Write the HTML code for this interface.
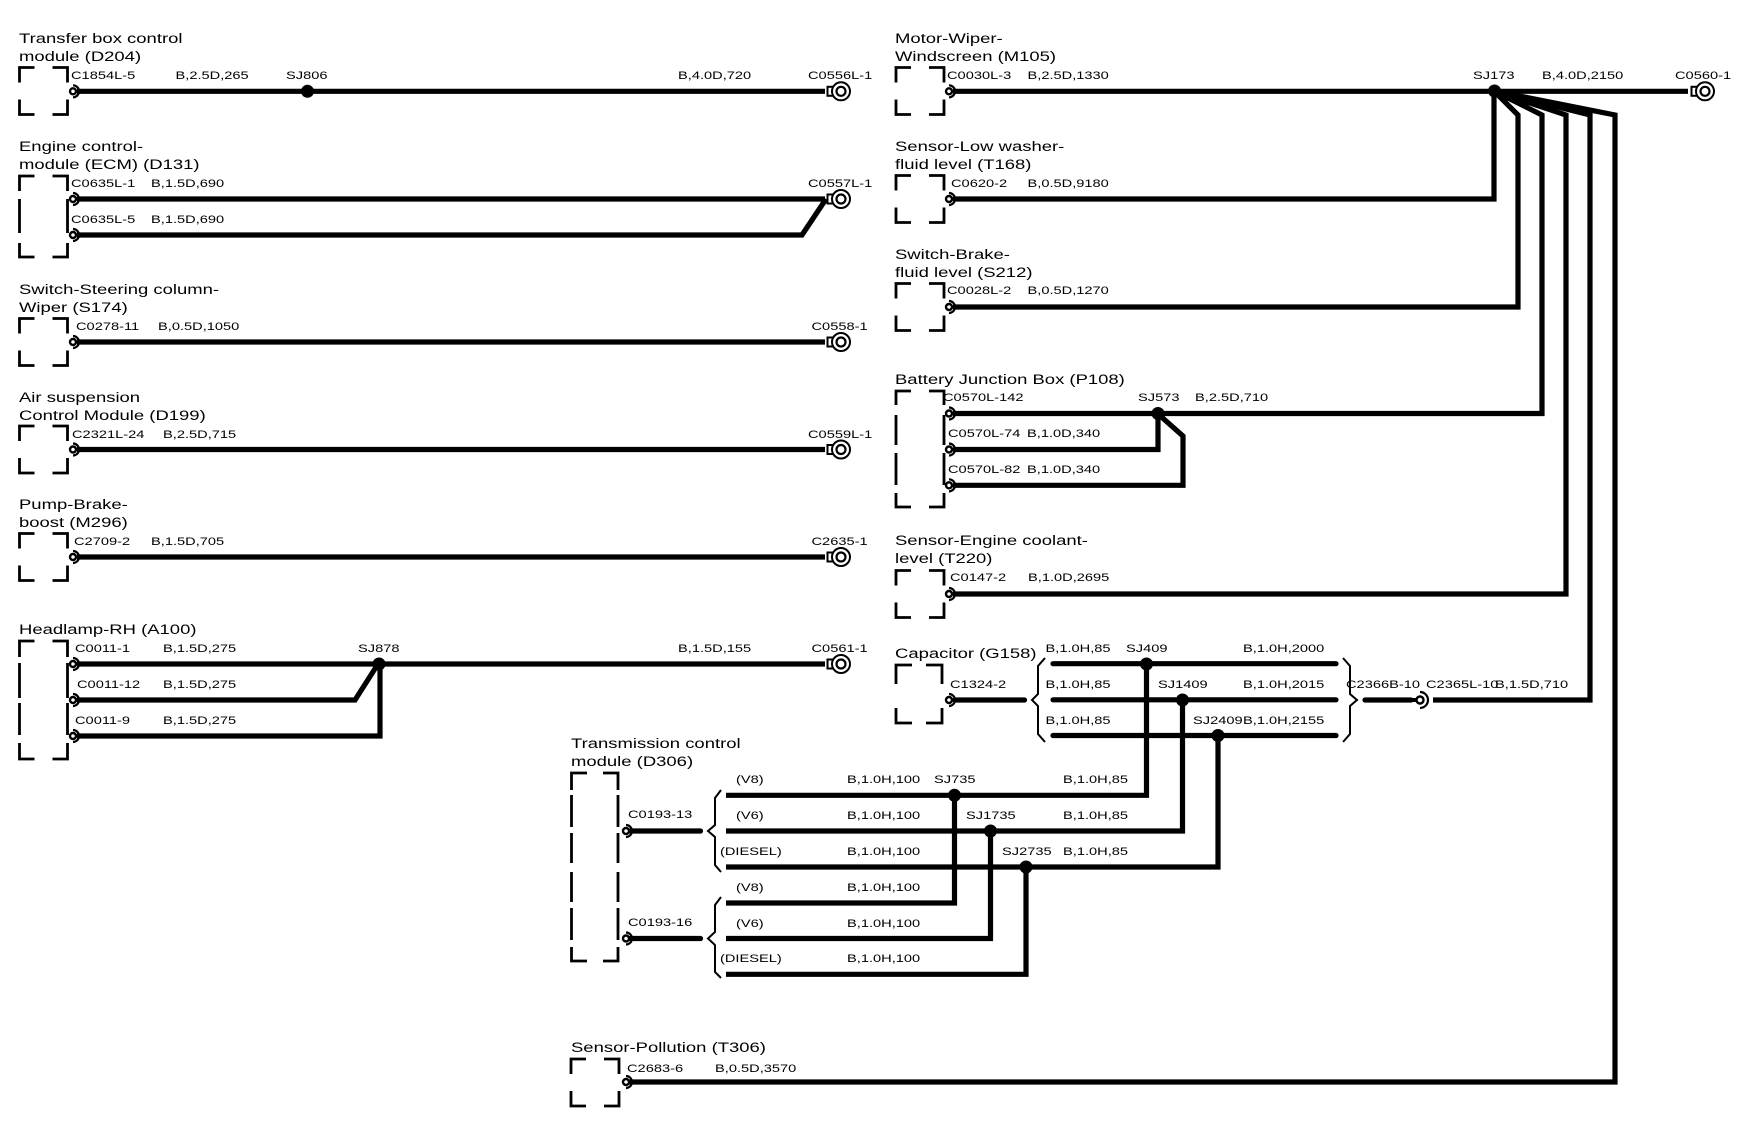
<!DOCTYPE html>
<html><head><meta charset="utf-8"><style>
html,body{margin:0;padding:0;background:#fff}
svg{display:block}
text{font-family:"Liberation Sans",sans-serif;font-size:11px;fill:#000}
.b text{font-size:14px}
.w{fill:none;stroke:#000;stroke-width:5.2;stroke-linejoin:miter}
.r{fill:none;stroke:#000;stroke-width:5.2;stroke-linecap:round}
.x{fill:none;stroke:#000;stroke-width:2.8}
.br{fill:none;stroke:#000;stroke-width:2}
</style></head><body>
<svg width="1750" height="1136" viewBox="0 0 1750 1136" xmlns="http://www.w3.org/2000/svg">
<defs>
<path id="bx" class="x" d="M0,15V0H15M33,0H48V15M0,32V47H15M33,47H48V32"/>
<g id="t"><circle r="3" fill="#fff" stroke="#000" stroke-width="2.4"/><path d="M0,-6A6,6 0 0 1 0,6" fill="none" stroke="#000" stroke-width="2.2"/></g>
<g id="e"><rect x="1" y="-4.5" width="6.5" height="9" fill="#fff" stroke="#000" stroke-width="2"/><circle cx="14.5" r="9" fill="#fff" stroke="#000" stroke-width="2"/><circle cx="14.5" r="4.5" fill="#fff" stroke="#000" stroke-width="2.2"/></g>
</defs>

<!-- boxes -->
<use href="#bx" x="19.5" y="67.5"/><use href="#bx" x="19.5" y="318.5"/><use href="#bx" x="19.5" y="426"/><use href="#bx" x="19.5" y="533.5"/>
<use href="#bx" x="896" y="67.5"/><use href="#bx" x="896" y="175.5"/><use href="#bx" x="896" y="283.5"/><use href="#bx" x="896" y="570.5"/><use href="#bx" x="571" y="1059"/>
<path class="x" d="M19.5,191V176H34.5M52.5,176H67.5V191M19.5,199V233M67.5,199V233M19.5,243V257H34.5M52.5,257H67.5V243"/>
<path class="x" d="M19.5,657V641H34.5M52.5,641H67.5V657M19.5,663V698M67.5,663V698M19.5,703V735M67.5,703V735M19.5,743V759H34.5M52.5,759H67.5V743"/>
<path class="x" d="M896,405V391H911M929,391H944V405M896,415V445M944,415V445M896,453V485M944,453V485M896,493V507H911M929,507H944V493"/>
<path class="x" d="M896,684V665H912M926,665H942V684M896,708V723H912M926,723H942V708"/>
<path class="x" d="M571.5,790V773H587M603,773H618V790M571.5,795V827M618,795V827M571.5,833V863M618,833V863M571.5,872V902M618,872V902M571.5,908V940M618,908V940M571.5,947V961H587M603,961H618V947"/>

<!-- wires left -->
<path class="w" d="M77,91.3H825M77,199H825M77,235H802L826,199M77,342H825M77,449.5H825M77,557H825"/>
<path class="w" d="M77,664H825M77,700H355L378,664M77,736H380V664"/>
<!-- wires right -->
<path class="w" d="M953,91.3H1688M953,199H1494V91"/>
<path class="w" d="M953,307H1518V115L1494,91M953,413.5H1542V115L1494,91M953,449.5H1158V413M953,485.3H1183V436L1157,413M953,594H1566V115L1494,91"/>
<path class="w" d="M1433,700H1590V115L1494,91M629,1082H1615V115L1494,91"/>
<path class="r" d="M955,700H1024.5M1053,663.7H1336M1053,699.8H1336M1053,735.5H1336M1365,700H1411"/>
<path class="r" d="M630,831H700.5M630,938.5H700.5"/>
<path class="w" d="M726,795.3H1146.5V664M726,831H1182.5V700M726,867H1218V735.5M726,903H954.5V795M726,938.5H990.5V831M726,974.3H1026V867"/>
<path d="M1410,698H1418V702H1410Z" fill="#000"/>

<!-- junctions -->
<g fill="#000"><circle cx="307.5" cy="91.3" r="6.5"/><circle cx="379" cy="664" r="6.5"/><circle cx="1494.5" cy="91" r="6.5"/><circle cx="1158" cy="413.5" r="6.5"/><circle cx="1146.5" cy="664" r="6.5"/><circle cx="1182.5" cy="700" r="6.5"/><circle cx="1218" cy="735.5" r="6.5"/><circle cx="954.5" cy="795.3" r="6.5"/><circle cx="990.5" cy="831" r="6.5"/><circle cx="1026" cy="867" r="6.5"/></g>

<!-- terminals -->
<use href="#t" x="73" y="91.3"/><use href="#t" x="73" y="199"/><use href="#t" x="73" y="235"/><use href="#t" x="73" y="342"/><use href="#t" x="73" y="449.5"/><use href="#t" x="73" y="557"/><use href="#t" x="73" y="664"/><use href="#t" x="73" y="700"/><use href="#t" x="73" y="736"/>
<use href="#t" x="949" y="91.3"/><use href="#t" x="949" y="199"/><use href="#t" x="949" y="307"/><use href="#t" x="949" y="413.5"/><use href="#t" x="949" y="449.5"/><use href="#t" x="949" y="485.3"/><use href="#t" x="949" y="594"/><use href="#t" x="949" y="700"/>
<use href="#t" x="626" y="831"/><use href="#t" x="626" y="938.5"/><use href="#t" x="626" y="1082"/>
<circle cx="1420" cy="700" r="3.5" fill="#fff" stroke="#000" stroke-width="2.4"/><path d="M1420,692A8,8 0 0 1 1420,708" fill="none" stroke="#000" stroke-width="2.2"/>

<!-- ends -->
<use href="#e" x="826.5" y="91.3"/><use href="#e" x="826.5" y="199"/><use href="#e" x="826.5" y="342"/><use href="#e" x="826.5" y="449.5"/><use href="#e" x="826.5" y="557"/><use href="#e" x="826.5" y="664"/><use href="#e" x="1690.5" y="91.3"/>

<!-- braces -->
<path class="br" d="M1045,658L1038,666V694L1032,700L1038,706V734L1045,742"/>
<path class="br" d="M1343,658L1350,666V694L1357,700L1350,706V734L1343,742"/>
<path class="br" d="M721,790L715,798V825L708,831L715,837V865L721,872"/>
<path class="br" d="M721,897L715,905V932L708,938.5L715,945V972L721,978"/>

<!-- titles -->
<g class="b">
<text transform="matrix(1.32 0 0 1 19 43)">Transfer box control</text>
<text transform="matrix(1.32 0 0 1 19 61)">module (D204)</text>
<text transform="matrix(1.32 0 0 1 19 151)">Engine control-</text>
<text transform="matrix(1.32 0 0 1 19 169)">module (ECM) (D131)</text>
<text transform="matrix(1.32 0 0 1 19 294)">Switch-Steering column-</text>
<text transform="matrix(1.32 0 0 1 19 312)">Wiper (S174)</text>
<text transform="matrix(1.32 0 0 1 19 402)">Air suspension</text>
<text transform="matrix(1.32 0 0 1 19 420)">Control Module (D199)</text>
<text transform="matrix(1.32 0 0 1 19 509)">Pump-Brake-</text>
<text transform="matrix(1.32 0 0 1 19 527)">boost (M296)</text>
<text transform="matrix(1.32 0 0 1 19 634)">Headlamp-RH (A100)</text>
<text transform="matrix(1.32 0 0 1 895 43)">Motor-Wiper-</text>
<text transform="matrix(1.32 0 0 1 895 61)">Windscreen (M105)</text>
<text transform="matrix(1.32 0 0 1 895 151)">Sensor-Low washer-</text>
<text transform="matrix(1.32 0 0 1 895 169)">fluid level (T168)</text>
<text transform="matrix(1.32 0 0 1 895 259)">Switch-Brake-</text>
<text transform="matrix(1.32 0 0 1 895 277)">fluid level (S212)</text>
<text transform="matrix(1.32 0 0 1 895 384)">Battery Junction Box (P108)</text>
<text transform="matrix(1.32 0 0 1 895 545)">Sensor-Engine coolant-</text>
<text transform="matrix(1.32 0 0 1 895 563)">level (T220)</text>
<text transform="matrix(1.32 0 0 1 895 658)">Capacitor (G158)</text>
<text transform="matrix(1.32 0 0 1 571 748)">Transmission control</text>
<text transform="matrix(1.32 0 0 1 571 766)">module (D306)</text>
<text transform="matrix(1.32 0 0 1 571 1052)">Sensor-Pollution (T306)</text>
</g>

<!-- labels left -->
<text transform="matrix(1.33 0 0 1 71 79)">C1854L-5</text>
<text transform="matrix(1.33 0 0 1 175.5 79)">B,2.5D,265</text>
<text transform="matrix(1.33 0 0 1 286 79)">SJ806</text>
<text transform="matrix(1.33 0 0 1 678 79)">B,4.0D,720</text>
<text transform="matrix(1.33 0 0 1 808 79)">C0556L-1</text>
<text transform="matrix(1.33 0 0 1 71 187)">C0635L-1</text>
<text transform="matrix(1.33 0 0 1 151 187)">B,1.5D,690</text>
<text transform="matrix(1.33 0 0 1 808 187)">C0557L-1</text>
<text transform="matrix(1.33 0 0 1 71 223)">C0635L-5</text>
<text transform="matrix(1.33 0 0 1 151 223)">B,1.5D,690</text>
<text transform="matrix(1.33 0 0 1 76 330)">C0278-11</text>
<text transform="matrix(1.33 0 0 1 158 330)">B,0.5D,1050</text>
<text transform="matrix(1.33 0 0 1 811.5 330)">C0558-1</text>
<text transform="matrix(1.33 0 0 1 72 438)">C2321L-24</text>
<text transform="matrix(1.33 0 0 1 163 438)">B,2.5D,715</text>
<text transform="matrix(1.33 0 0 1 808 438)">C0559L-1</text>
<text transform="matrix(1.33 0 0 1 74 545)">C2709-2</text>
<text transform="matrix(1.33 0 0 1 151 545)">B,1.5D,705</text>
<text transform="matrix(1.33 0 0 1 811.5 545)">C2635-1</text>
<text transform="matrix(1.33 0 0 1 75 652)">C0011-1</text>
<text transform="matrix(1.33 0 0 1 163 652)">B,1.5D,275</text>
<text transform="matrix(1.33 0 0 1 358 652)">SJ878</text>
<text transform="matrix(1.33 0 0 1 678 652)">B,1.5D,155</text>
<text transform="matrix(1.33 0 0 1 811.5 652)">C0561-1</text>
<text transform="matrix(1.33 0 0 1 77 688)">C0011-12</text>
<text transform="matrix(1.33 0 0 1 163 688)">B,1.5D,275</text>
<text transform="matrix(1.33 0 0 1 75 724)">C0011-9</text>
<text transform="matrix(1.33 0 0 1 163 724)">B,1.5D,275</text>

<!-- labels right -->
<text transform="matrix(1.33 0 0 1 947 79)">C0030L-3</text>
<text transform="matrix(1.33 0 0 1 1027.5 79)">B,2.5D,1330</text>
<text transform="matrix(1.33 0 0 1 1473 79)">SJ173</text>
<text transform="matrix(1.33 0 0 1 1542 79)">B,4.0D,2150</text>
<text transform="matrix(1.33 0 0 1 1675 79)">C0560-1</text>
<text transform="matrix(1.33 0 0 1 951 187)">C0620-2</text>
<text transform="matrix(1.33 0 0 1 1027.5 187)">B,0.5D,9180</text>
<text transform="matrix(1.33 0 0 1 947 294)">C0028L-2</text>
<text transform="matrix(1.33 0 0 1 1027.5 294)">B,0.5D,1270</text>
<text transform="matrix(1.33 0 0 1 943 401)">C0570L-142</text>
<text transform="matrix(1.33 0 0 1 1138 401)">SJ573</text>
<text transform="matrix(1.33 0 0 1 1195 401)">B,2.5D,710</text>
<text transform="matrix(1.33 0 0 1 948 437)">C0570L-74</text>
<text transform="matrix(1.33 0 0 1 1027 437)">B,1.0D,340</text>
<text transform="matrix(1.33 0 0 1 948 473)">C0570L-82</text>
<text transform="matrix(1.33 0 0 1 1027 473)">B,1.0D,340</text>
<text transform="matrix(1.33 0 0 1 950 581)">C0147-2</text>
<text transform="matrix(1.33 0 0 1 1028 581)">B,1.0D,2695</text>
<text transform="matrix(1.33 0 0 1 950 688)">C1324-2</text>
<text transform="matrix(1.33 0 0 1 1045.5 652)">B,1.0H,85</text>
<text transform="matrix(1.33 0 0 1 1126 652)">SJ409</text>
<text transform="matrix(1.33 0 0 1 1243 652)">B,1.0H,2000</text>
<text transform="matrix(1.33 0 0 1 1045.5 688)">B,1.0H,85</text>
<text transform="matrix(1.33 0 0 1 1158 688)">SJ1409</text>
<text transform="matrix(1.33 0 0 1 1243 688)">B,1.0H,2015</text>
<text transform="matrix(1.33 0 0 1 1045.5 724)">B,1.0H,85</text>
<text transform="matrix(1.33 0 0 1 1193 724)">SJ2409</text>
<text transform="matrix(1.33 0 0 1 1243 724)">B,1.0H,2155</text>
<text transform="matrix(1.33 0 0 1 1346 688)">C2366B-10</text>
<text transform="matrix(1.33 0 0 1 1426 688)">C2365L-10</text>
<text transform="matrix(1.33 0 0 1 1495 688)">B,1.5D,710</text>

<!-- labels transmission -->
<text transform="matrix(1.33 0 0 1 628 818)">C0193-13</text>
<text transform="matrix(1.33 0 0 1 628 926)">C0193-16</text>
<text transform="matrix(1.33 0 0 1 736 783)">(V8)</text>
<text transform="matrix(1.33 0 0 1 847 783)">B,1.0H,100</text>
<text transform="matrix(1.33 0 0 1 934 783)">SJ735</text>
<text transform="matrix(1.33 0 0 1 1063 783)">B,1.0H,85</text>
<text transform="matrix(1.33 0 0 1 736 819)">(V6)</text>
<text transform="matrix(1.33 0 0 1 847 819)">B,1.0H,100</text>
<text transform="matrix(1.33 0 0 1 966 819)">SJ1735</text>
<text transform="matrix(1.33 0 0 1 1063 819)">B,1.0H,85</text>
<text transform="matrix(1.33 0 0 1 720 855)">(DIESEL)</text>
<text transform="matrix(1.33 0 0 1 847 855)">B,1.0H,100</text>
<text transform="matrix(1.33 0 0 1 1002 855)">SJ2735</text>
<text transform="matrix(1.33 0 0 1 1063 855)">B,1.0H,85</text>
<text transform="matrix(1.33 0 0 1 736 891)">(V8)</text>
<text transform="matrix(1.33 0 0 1 847 891)">B,1.0H,100</text>
<text transform="matrix(1.33 0 0 1 736 927)">(V6)</text>
<text transform="matrix(1.33 0 0 1 847 927)">B,1.0H,100</text>
<text transform="matrix(1.33 0 0 1 720 962)">(DIESEL)</text>
<text transform="matrix(1.33 0 0 1 847 962)">B,1.0H,100</text>
<text transform="matrix(1.33 0 0 1 627 1072)">C2683-6</text>
<text transform="matrix(1.33 0 0 1 715 1072)">B,0.5D,3570</text>
</svg>
</body></html>
